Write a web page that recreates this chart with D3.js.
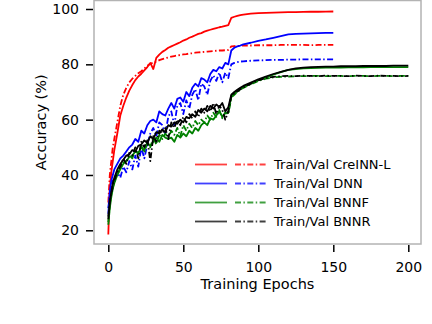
<!DOCTYPE html>
<html>
<head>
<meta charset="utf-8">
<script src="https://cdn.jsdelivr.net/npm/d3@7/dist/d3.min.js"></script>
<style>
  body { margin: 0; background: #fff; }
  text { font-family: "DejaVu Sans", sans-serif; fill: #000; }
</style>
</head>
<body>
<div id="chart"></div>
<script>
// epochs (train/val curves share them)
var epochs = [0,1,2,3,4,6,8,10,12,14,16,18,20,22,24,26,28,30,32,34,36,38,40,42,44,46,48,50,52,54,56,58,60,62,64,66,68,70,72,74,76,78,80,82,84,86,88,90,95,100,105,110,115,120,125,130,135,140,145,150];
var epochsExt = [155,160,165,170,175,180,185,190,195,200];

var creinnTrain = [18.5,35,41,45,49, 55,61.5,65,68,70.5,72.5,74.3,75.6,76.6,77.8,79,80.5,78.3,82.3,83.5,84.5,85.2, 86,86.5,87,87.5,88,88.6,89,89.6,90,90.5,91,91.3,91.8,92.2,92.5,92.8,93.1,93.4,93.6,93.9,94.2, 96.8,97.2,97.5,97.8,98, 98.3,98.5,98.6,98.7,98.8,98.85,98.9,98.95,99,99,99.05,99.1];
var creinnVal = [30,40,45,50,53, 59,65,69,71.5,73.5,74.8,75.8,76.8,77.5,78.5,79.5,80.2,80.6,81,81.5,81.9,82.2, 82.5,82.8,83,83.2,83.4,83.6,83.7,83.9,84,84.2,84.3,84.4,84.5,84.6,84.7,84.8,84.9,85,85,85.1,85.2, 86.5,86.6,86.7,86.7,86.8, 86.8,86.9,86.9,86.9,87,87,87,87,86.9,87,87,87];

var dnnTrain = [26,34,38,40,42, 44,46,47,48.5,50,51,53,52,56,55,58,59.5,60,59,63,62,61.5, 64,66,64,67.5,68,66.5,70,68.5,71.5,73,72,75,74.5,73.5,76.5,78,77.5,79,78.5,80.5,80, 85,86,86.5,86.8,87.2, 87.8,88.5,89,89.6,90.2,90.8,91,91.1,91.2,91.3,91.4,91.4];
var dnnVal = [28,33,36,38,37, 41,39,43,41,45,42,47,43,50,46,51,55,57,54,59,58,55, 61,63,58,65,66,62,67,64,69,71,67,73,72,69,74,76,74,77,73.5,77,75, 80,80.5,80.8,81,81.1, 81.3,81.4,81.5,81.6,81.6,81.7,81.7,81.8,81.8,81.8,81.8,81.8];

var bnnfTrain = [22,28,32,35,37, 40,42,44,45,46.5,47,48.5,48,50,49,51.5,50.5,52,53.5,52,54.5,53.5, 53,53.5,52,54.5,53.5,55,54,56,55,57,56,58,59,58,60.5,60,61.5,63,61,62.5,62.5, 68.5,69.5,70.3,71,71.7, 73,74.3,75.3,76.3,77.2,78,78.3,78.5,78.6,78.7,78.8,78.8, 78.8,78.9,78.9,78.9,79,79,79,79,79,79];
var bnnfVal = [23,29,33,35,38, 40,43,44.5,45,47,46,49,47.5,50.5,48,52,50,53.5,51,54.5,53,55, 53.5,56,54.5,57,54,58,56,58.5,57,59.5,58,60,59,61.5,60,62.5,61,63.5,60.5,62.5,62, 68,69,70,70.8,71.5, 72.8,74,74.8,75.3,75.5,75.6,75.7,75.7,75.8,75.8,75.7,75.8, 75.8,75.7,75.8,75.8,75.7,75.8,75.8,75.7,75.8,75.8];

var bnnrTrain = [24,30,34,37,39, 42,44,45.5,47,47.5,49,48.5,50.5,51,52.5,51.5,54,53,55.5,55,56.5,55.5, 58,57.5,59,58.5,60,59,61,60.5,62,61,63.5,62.5,64,63,65,64,65.5,64.5,66,63,64.5, 69,70,70.8,71.5,72.2, 73.4,74.6,75.6,76.5,77.3,78,78.5,78.8,79,79.1,79.2,79.2, 79.3,79.3,79.3,79.4,79.4,79.4,79.4,79.5,79.5,79.5];
var bnnrVal = [25,31,33,36,38, 41,43,46,44,48,47,50,46,52,50,53,45,54,52,56,55,57, 53,59,57,60,58,61,59,62,60.5,63,61,64,62.5,65,63,66,62,65,63.5,60,63, 68.5,69.5,70.2,71,71.6, 73,74.2,75,75.5,75.7,75.8,75.7,75.9,75.8,75.7,75.9,75.8, 75.8,75.7,75.9,75.8,75.7,75.9,75.8,75.8,75.7,75.8];

var legendLabels = ["Train/Val CreINN-L", "Train/Val DNN", "Train/Val BNNF", "Train/Val BNNR"];
var xTicks = [0, 50, 100, 150, 200];
var yTicks = [20, 40, 60, 80, 100];

var width = 432, height = 324,
    box = {left: 94, top: 0.5, right: 421, bottom: 244},
    lw = 1.8,
    dashDot = "6,2.4,1.5,2.4";

var svg = d3.select("#chart").append("svg")
    .attr("width", width)
    .attr("height", height);

var xScale = d3.scaleLinear().domain([0, 200]).range([108.3, 408.3]);
var yScale = d3.scaleLinear().domain([20, 100]).range([230.3, 9]);

svg.append("clipPath").attr("id", "plotclip")
  .append("rect")
    .attr("x", box.left).attr("y", box.top)
    .attr("width", box.right - box.left).attr("height", box.bottom - box.top);

var allEpochs = epochs.concat(epochsExt);
var series = [
  {x: epochs, y: creinnTrain, color: "#ff0000", dash: null},
  {x: epochs, y: creinnVal, color: "#ff0000", dash: dashDot},
  {x: epochs, y: dnnTrain, color: "#0000ff", dash: null},
  {x: epochs, y: dnnVal, color: "#0000ff", dash: dashDot},
  {x: allEpochs, y: bnnfTrain, color: "#008000", dash: null},
  {x: allEpochs, y: bnnfVal, color: "#008000", dash: dashDot},
  {x: allEpochs, y: bnnrTrain, color: "#000000", dash: null},
  {x: allEpochs, y: bnnrVal, color: "#000000", dash: dashDot}
];

var line = d3.line()
    .x(function(d){return xScale(d[0])})
    .y(function(d){return yScale(d[1])});

var plot = svg.append("g").attr("clip-path", "url(#plotclip)");
series.forEach(function(s){
    plot.append("path")
        .datum(d3.zip(s.x, s.y))
        .attr("d", line)
        .attr("fill", "none")
        .attr("stroke", s.color)
        .attr("stroke-width", lw)
        .attr("stroke-linejoin", "round")
        .attr("stroke-dasharray", s.dash);
});

// frame
svg.append("rect")
    .attr("x", box.left).attr("y", box.top)
    .attr("width", box.right - box.left).attr("height", box.bottom - box.top)
    .attr("fill", "none")
    .attr("stroke", "#b3b3b3")
    .attr("stroke-width", 1.5);

// axes
var xAxis = d3.axisBottom(xScale).tickValues(xTicks).tickSize(7).tickPadding(10);
var yAxis = d3.axisLeft(yScale).tickValues(yTicks).tickSize(7).tickPadding(7);

var gx = svg.append("g")
    .attr("transform", "translate(0," + (box.bottom + 1) + ")")
    .call(xAxis);
var gy = svg.append("g")
    .attr("transform", "translate(" + (box.left - 1) + ",0)")
    .call(yAxis);

[gx, gy].forEach(function(g){
    g.select(".domain").remove();
    g.selectAll(".tick line").attr("stroke", "#000").attr("stroke-width", 1.5);
    g.selectAll(".tick text").style("font-size", "14px").style("font-family", "DejaVu Sans");
});

svg.append("text")
    .attr("x", (box.left + box.right) / 2)
    .attr("y", 289)
    .attr("text-anchor", "middle")
    .style("font-size", "14.5px")
    .text("Training Epochs");

svg.append("text")
    .attr("transform", "translate(46," + ((box.top + box.bottom) / 2) + ") rotate(-90)")
    .attr("text-anchor", "middle")
    .style("font-size", "14.5px")
    .text("Accuracy (%)");

// legend
var legendColors = ["#ff0000", "#0000ff", "#008000", "#000000"];
var legend = svg.append("g");
legendLabels.forEach(function(label, i){
    var y = 164.5 + i * 19;
    legend.append("line")
        .attr("x1", 195).attr("x2", 227).attr("y1", y).attr("y2", y)
        .attr("stroke", legendColors[i]).attr("stroke-opacity", 0.75).attr("stroke-width", lw);
    legend.append("line")
        .attr("x1", 235).attr("x2", 266).attr("y1", y).attr("y2", y)
        .attr("stroke", legendColors[i]).attr("stroke-opacity", 0.75).attr("stroke-width", lw)
        .attr("stroke-dasharray", dashDot);
    legend.append("text")
        .attr("x", 274).attr("y", y).attr("dy", "0.35em")
        .style("font-size", "13px")
        .text(label);
});
</script>
</body>
</html>
